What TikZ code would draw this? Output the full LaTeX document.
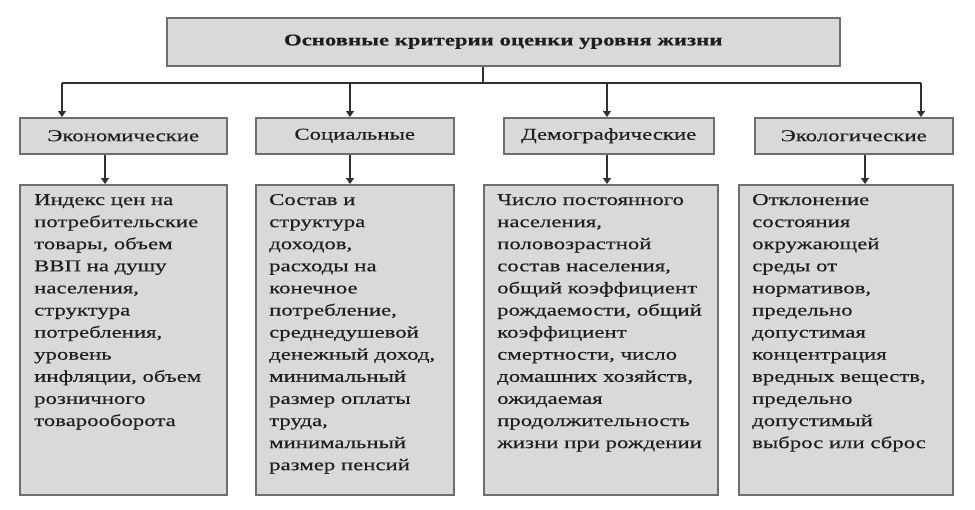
\documentclass[tikz,border=0pt]{standalone}
\usepackage{fontspec}
\setmainfont{Liberation Serif}[FakeStretch=1.38, FakeBold=0.35]
\usetikzlibrary{arrows.meta}
\definecolor{boxfill}{HTML}{D9D9D9}
\definecolor{boxline}{HTML}{6E6E6E}
\definecolor{connc}{HTML}{303030}
\definecolor{txt}{HTML}{1E1E1E}
\begin{document}
\begin{tikzpicture}[x=1pt,y=-1pt,
  box/.style={draw=boxline, fill=boxfill, line width=1.5pt, inner sep=0pt, anchor=north west},
  conn/.style={draw=connc, line width=1.1pt},
  arr/.style={conn, -{Triangle[length=6pt,width=8pt]}},
  lbl/.style={font=\fontsize{16.5}{20}\selectfont, text=txt},
  body/.style={anchor=base west, inner sep=0pt, font=\fontsize{16.5}{22.1}\selectfont, text=txt}]
\useasboundingbox[fill=white] (0,0) rectangle (975,509);
% top
\node[box, minimum width=673pt, minimum height=48pt, text=txt, font=\bfseries\fontsize{16.5}{20}\selectfont] (top) at (166,17) {Основные критерии оценки уровня жизни};
% level 2
\node[box, lbl, minimum width=207pt, minimum height=36pt] (c1) at (19,117) {Экономические};
\node[box, lbl, minimum width=198pt, minimum height=36pt] (c2) at (255,117) {Социальные};
\node[box, lbl, minimum width=210pt, minimum height=36pt] (c3) at (503,117) {Демографические};
\node[box, lbl, minimum width=198pt, minimum height=36pt] (c4) at (754,117) {Экологические};
% level 3 boxes
\node[box, minimum width=207pt, minimum height=310pt] (d1) at (19,184) {};
\node[box, minimum width=198pt, minimum height=310pt] (d2) at (255,184) {};
\node[box, minimum width=234pt, minimum height=310pt] (d3) at (483,184) {};
\node[box, minimum width=214pt, minimum height=310pt] (d4) at (738,184) {};
% texts
\node[body] (t1) at (34,205) {\parbox[t]{190pt}{\raggedright Индекс цен на\\потребительские\\товары, объем\\ВВП на душу\\населения,\\структура\\потребления,\\уровень\\инфляции, объем\\розничного\\товарооборота}};
\node[body] (t2) at (269,205) {\parbox[t]{185pt}{\raggedright Состав и\\структура\\доходов,\\расходы на\\конечное\\потребление,\\среднедушевой\\денежный доход,\\минимальный\\размер оплаты\\труда,\\минимальный\\размер пенсий}};
\node[body] (t3) at (497,205) {\parbox[t]{220pt}{\raggedright Число постоянного\\населения,\\половозрастной\\состав населения,\\общий коэффициент\\рождаемости, общий\\коэффициент\\смертности, число\\домашних хозяйств,\\ожидаемая\\продолжительность\\жизни при рождении}};
\node[body] (t4) at (752,205) {\parbox[t]{200pt}{\raggedright Отклонение\\состояния\\окружающей\\среды от\\нормативов,\\предельно\\допустимая\\концентрация\\вредных веществ,\\предельно\\допустимый\\выброс или сброс}};
% connectors
\coordinate (j) at (483,83);
\coordinate (h1) at (62,83);
\coordinate (h2) at (350,83);
\coordinate (h3) at (607,83);
\coordinate (h4) at (921,83);
\draw[conn] (top.south -| j) -- (j);
\draw[conn] (h1) -- (h4);
\draw[arr] (h1) -- (h1 |- c1.north);
\draw[arr] (h2) -- (h2 |- c2.north);
\draw[arr] (h3) -- (h3 |- c3.north);
\draw[arr] (h4) -- (h4 |- c4.north);
\coordinate (b1) at (105,0);
\coordinate (b2) at (350,0);
\coordinate (b3) at (607,0);
\coordinate (b4) at (865,0);
\draw[arr] (c1.south -| b1) -- (d1.north -| b1);
\draw[arr] (c2.south -| b2) -- (d2.north -| b2);
\draw[arr] (c3.south -| b3) -- (d3.north -| b3);
\draw[arr] (c4.south -| b4) -- (d4.north -| b4);
\end{tikzpicture}
\end{document}
